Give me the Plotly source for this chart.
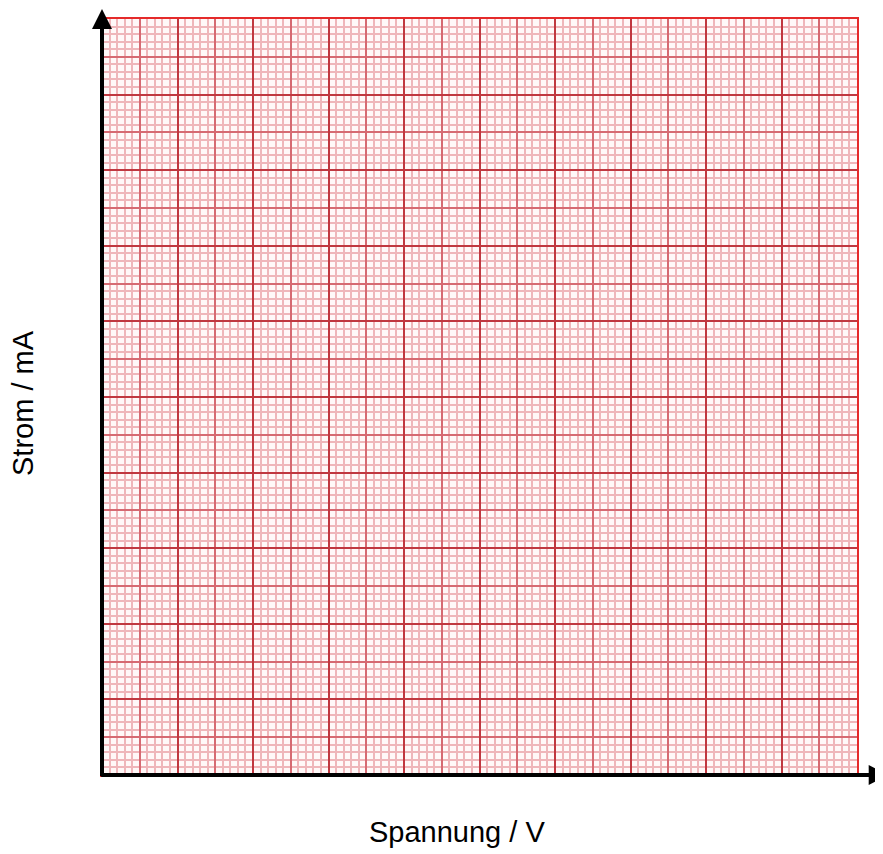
import plotly.graph_objects as go

# Achsenbereich und Rasterteilung (Millimeterpapier)
x_range = [0, 100]
y_range = [0, 100]
major_step = 10
mid_step = 5
minor_step = 1

x_title = "Spannung / V"
y_title = "Strom / mA"

major_color = "#C03840"
mid_color = "#D66A72"
minor_color = "#EFB6BA"
border_color = "#E52A2A"

fig = go.Figure()
fig.add_trace(go.Scatter(x=x_range, y=y_range, mode="markers",
                         marker=dict(opacity=0), hoverinfo="skip", showlegend=False))
fig.add_trace(go.Scatter(x=x_range, y=y_range, mode="markers", xaxis="x2", yaxis="y2",
                         marker=dict(opacity=0), hoverinfo="skip", showlegend=False))

common = dict(showticklabels=False, ticks="", zeroline=False, fixedrange=True)

fig.update_layout(
    width=883, height=854,
    margin=dict(l=94, r=34, t=11, b=87, autoexpand=False),
    plot_bgcolor="#FFF8F8", paper_bgcolor="white",
    font=dict(family="Arial, Liberation Sans, sans-serif", color="black"),
    xaxis=dict(range=x_range, dtick=mid_step, tick0=0, gridcolor=mid_color, gridwidth=1.5,
               minor=dict(dtick=minor_step, tick0=0, gridcolor=minor_color, gridwidth=2, showgrid=True),
               showline=True, mirror=True, linecolor=border_color, linewidth=1.5, **common),
    yaxis=dict(range=y_range, dtick=mid_step, tick0=0, gridcolor=mid_color, gridwidth=1.5,
               minor=dict(dtick=minor_step, tick0=0, gridcolor=minor_color, gridwidth=2, showgrid=True),
               showline=True, mirror=True, linecolor=border_color, linewidth=1.5, **common),
    xaxis2=dict(range=x_range, dtick=major_step, tick0=0, gridcolor=major_color, gridwidth=1.5,
                overlaying="x", showline=False, **common),
    yaxis2=dict(range=y_range, dtick=major_step, tick0=0, gridcolor=major_color, gridwidth=1.5,
                overlaying="y", showline=False, **common),
)

# Koordinatenachsen mit Pfeilspitzen
fig.add_annotation(x=0, y=1.0245, xref="paper", yref="paper", ax=0, ay=777,
                   axref="pixel", ayref="pixel", text="", showarrow=True,
                   arrowhead=2, arrowsize=1, arrowwidth=4, arrowcolor="black")
fig.add_annotation(x=1.042, y=0, xref="paper", yref="paper", ax=-789, ay=0,
                   axref="pixel", ayref="pixel", text="", showarrow=True,
                   arrowhead=2, arrowsize=1, arrowwidth=4, arrowcolor="black")

# Achsenbeschriftungen
fig.add_annotation(x=(457 - 102) / 755, y=-(832 - 775) / 756, xref="paper", yref="paper",
                   xanchor="center", yanchor="middle",
                   text=x_title, showarrow=False, font=dict(size=29))
fig.add_annotation(x=-(102 - 23) / 755, y=(775 - 403) / 756, xref="paper", yref="paper",
                   xanchor="center", yanchor="middle",
                   text=y_title, showarrow=False, textangle=-90, font=dict(size=29))

fig.write_html("out.html")
